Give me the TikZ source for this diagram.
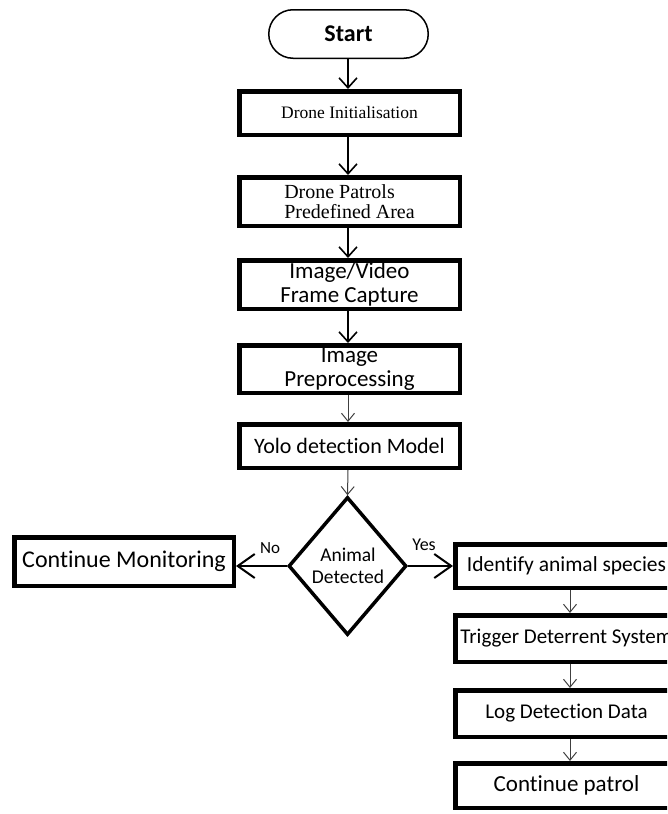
\documentclass[tikz,border=0pt]{standalone}
\usepackage{fontspec}
\setmainfont{Carlito}[Ligatures=NoCommon]
\newfontfamily\serifrm{Liberation Serif}
\usetikzlibrary{shapes.misc,shapes.geometric,arrows.meta}
\begin{document}
\begin{tikzpicture}[x=1pt,y=-1pt,
  box/.style={draw=black,line width=4.5pt,inner sep=0pt,align=center},
  mainbox/.style={box,minimum width=220.5pt},
  rightbox/.style={box,minimum width=222.5pt},
  thickarr/.style={line width=1.7pt,-{Straight Barb[length=10pt,width=18pt,line width=1.6pt]}},
  thinarr/.style={line width=1pt,draw=black!75,-{Straight Barb[length=8pt,width=13pt,line width=1pt]}},
  sidearr/.style={line width=2pt,-{Straight Barb[length=17pt,width=24pt,line width=2pt]}},
  lbl/.style={font=\fontsize{17}{18}\selectfont,inner sep=0pt}
]
\useasboundingbox (0,0) rectangle (667,814);
\clip (0,0) rectangle (667,814);

% main column
\node[draw=black,line width=1.5pt,rounded rectangle,minimum width=159.5pt,minimum height=48.5pt,inner sep=0pt,
      font=\bfseries\fontsize{24}{26}\selectfont] (start) at (348.5,34) {Start};
\node[mainbox,minimum height=43.5pt,font=\serifrm\fontsize{17.5}{20}\selectfont] (init) at (349.5,113) {Drone Initialisation};
\node[mainbox,minimum height=48.5pt,font=\serifrm\fontsize{20}{20.5}\selectfont,align=left] (patrol) at (349.5,201.5) {Drone Patrols\\Predefined Area};
\node[mainbox,minimum height=48.5pt,font=\fontsize{23}{24}\selectfont] (capture) at (349.5,284.5) {Image/Video\\Frame Capture};
\node[mainbox,minimum height=47.5pt,font=\fontsize{23}{24}\selectfont] (prep) at (349.5,369) {Image\\Preprocessing};
\node[mainbox,minimum height=43.5pt,font=\fontsize{22}{24}\selectfont] (yolo) at (349.5,446) {Yolo detection Model};

\node[draw=black,line width=3.5pt,diamond,minimum width=118pt,minimum height=138pt,inner sep=0pt] (dec) at (347.5,566) {};
\node[font=\fontsize{19.5}{22}\selectfont,align=center,inner sep=0pt] (dectext) at (348,566) {Animal\\Detected};

% left
\node[box,minimum width=219.5pt,minimum height=48.5pt,font=\fontsize{24}{26}\selectfont] (cm) at (124,561.5) {Continue Monitoring};

% right column
\node[rightbox,minimum height=43.5pt,font=\fontsize{21.5}{24}\selectfont] (idf) at (566.5,566) {Identify animal species};
\node[rightbox,minimum height=46.5pt,font=\fontsize{21}{24}\selectfont] (trg) at (566.5,638.5) {Trigger Deterrent System};
\node[rightbox,minimum height=46.5pt,font=\fontsize{21}{24}\selectfont] (log) at (566.5,713.5) {Log Detection Data};
\node[rightbox,minimum height=44.5pt,font=\fontsize{23}{24}\selectfont] (cp) at (566.5,785.5) {Continue patrol};

% connectors
\draw[thickarr] (start.south -| 348,0) -- (init.north -| 348,0);
\draw[thickarr] (init.south -| 348,0) -- (patrol.north -| 348,0);
\draw[thickarr] (patrol.south -| 348,0) -- (capture.north -| 348,0);
\draw[thickarr] (capture.south -| 348,0) -- (prep.north -| 348,0);
\draw[thinarr] (prep.south -| 348,0) -- (yolo.north -| 348,0);
\draw[thinarr] (yolo.south -| 348,0) -- (dec.north);
\draw[sidearr] (dec.west) -- (dec.west -| cm.east);
\draw[sidearr] (dec.east) -- (dec.east -| idf.west);
\draw[thinarr] (idf.south -| 570,0) -- (trg.north -| 570,0);
\draw[thinarr] (trg.south -| 570,0) -- (log.north -| 570,0);
\draw[thinarr] (log.south -| 570,0) -- (cp.north -| 570,0);

\node[lbl] (nolbl) at (270,548) {No};
\node[lbl,font=\fontsize{18}{19}\selectfont] (yeslbl) at (424,545) {Yes};
\end{tikzpicture}
\end{document}
